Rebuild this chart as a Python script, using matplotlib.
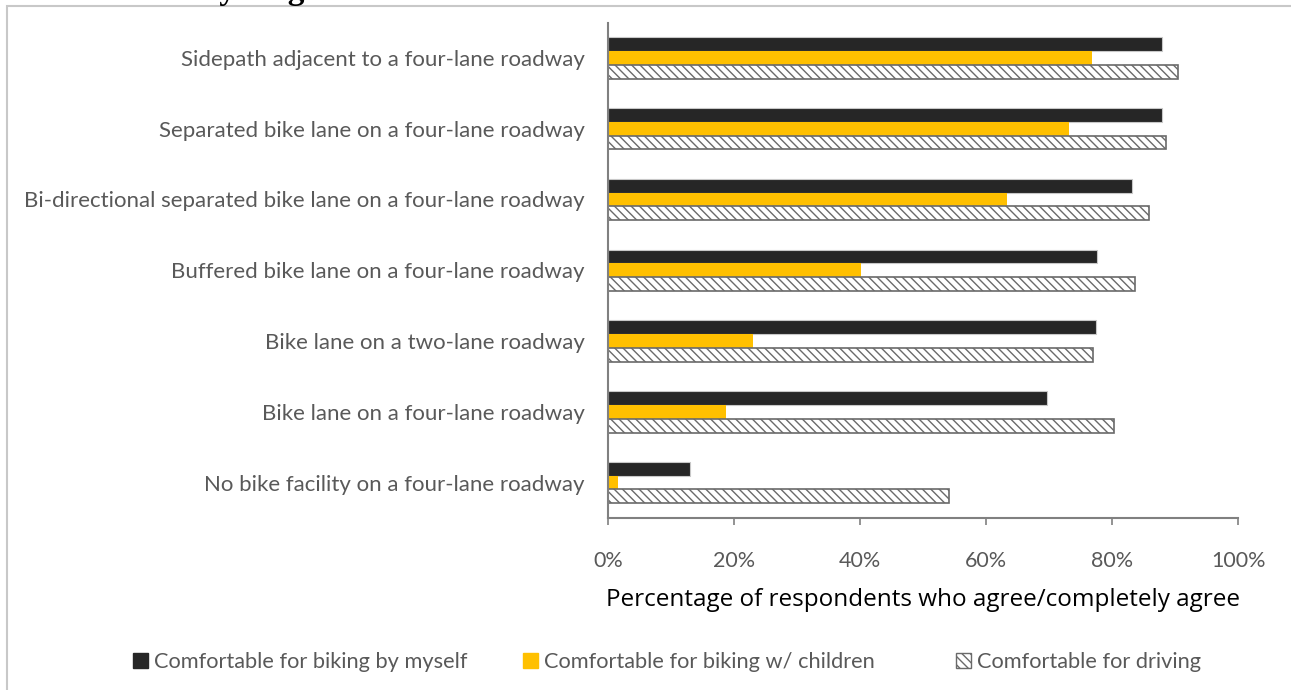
import matplotlib
matplotlib.use("Agg")
import matplotlib.pyplot as plt
import numpy as np
from matplotlib.patches import Rectangle, Patch
from matplotlib.ticker import PercentFormatter

plt.rcParams['font.family'] = ['Lato', 'DejaVu Sans']

scenarios = [
    "Sidepath adjacent to a four-lane roadway",
    "Separated bike lane on a four-lane roadway",
    "Bi-directional separated bike lane on a four-lane roadway",
    "Buffered bike lane on a four-lane roadway",
    "Bike lane on a two-lane roadway",
    "Bike lane on a four-lane roadway",
    "No bike facility on a four-lane roadway",
]
by_myself = [88.0, 88.0, 83.2, 77.6, 77.4, 69.7, 13.0]
with_children = [76.8, 73.1, 63.4, 40.1, 23.0, 18.7, 1.6]
driving = [90.5, 88.5, 85.8, 83.7, 76.9, 80.3, 54.1]
series_names = ["Comfortable for biking by myself",
                "Comfortable for biking w/ children",
                "Comfortable for driving"]

fig = plt.figure(figsize=(12.91, 6.90), dpi=100)
ax = fig.add_axes([0.471, 0.2493, 0.488, 0.718])

y = np.arange(len(scenarios))
h = 0.195
ax.barh(y - h, by_myself, height=h, color='#262626', edgecolor='#c8c8c8', linewidth=0.8)
ax.barh(y, with_children, height=h, color='#FFC000', linewidth=0)
ax.barh(y + h, driving, height=h, color='white', edgecolor='#6a6a6a',
        hatch='\\\\\\\\', linewidth=1.2)

ax.set_xlim(0, 100)
ax.set_ylim(6.5, -0.5)
ax.set_yticks(y)
ax.set_yticklabels(scenarios, fontsize=16, color='#595959')
ax.tick_params(axis='y', length=0, pad=17)
ax.set_xticks(np.arange(0, 101, 20))
ax.xaxis.set_major_formatter(PercentFormatter(decimals=0))
ax.tick_params(axis='x', length=5, width=1.2, color='#808080', labelsize=15.5,
               labelcolor='#595959', pad=19)
ax.set_xlabel("Percentage of respondents who agree/completely agree",
              fontsize=17.5, family='Open Sans', labelpad=12)

for side in ['top', 'right']:
    ax.spines[side].set_visible(False)
for side in ['left', 'bottom']:
    ax.spines[side].set_color('#808080')
    ax.spines[side].set_linewidth(1.5)

# one legend entry per series, placed along the bottom
handles = [Patch(facecolor='#262626', edgecolor='#262626'),
           Patch(facecolor='#FFC000', edgecolor='#FFC000'),
           Patch(facecolor='white', edgecolor='#6a6a6a', hatch='\\\\\\\\')]
legend_x = [133, 523, 956]
for handle, name, lx in zip(handles, series_names, legend_x):
    fig.legend([handle], [name], loc='center left',
               bbox_to_anchor=(lx / 1291, 0.04), frameon=False,
               fontsize=15.7, labelcolor='#595959', borderaxespad=0,
               borderpad=0, handlelength=0.7, handleheight=0.7,
               handletextpad=0.25)

# outer frame around the chart
fig.patches.append(Rectangle((7 / 1291, -0.1), 1.2, (684 / 690) + 0.1,
                             transform=fig.transFigure, fill=False,
                             edgecolor='#c8c8c8', linewidth=1.5))

# heading sitting just above the frame
fig.text(5 / 1291, 1 + 1 / 690, "Comfortable Cycling in Various Scenarios",
         family='Liberation Serif', fontweight='bold', fontsize=24,
         ha='left', va='baseline')

fig.savefig("out.png", dpi=100)
